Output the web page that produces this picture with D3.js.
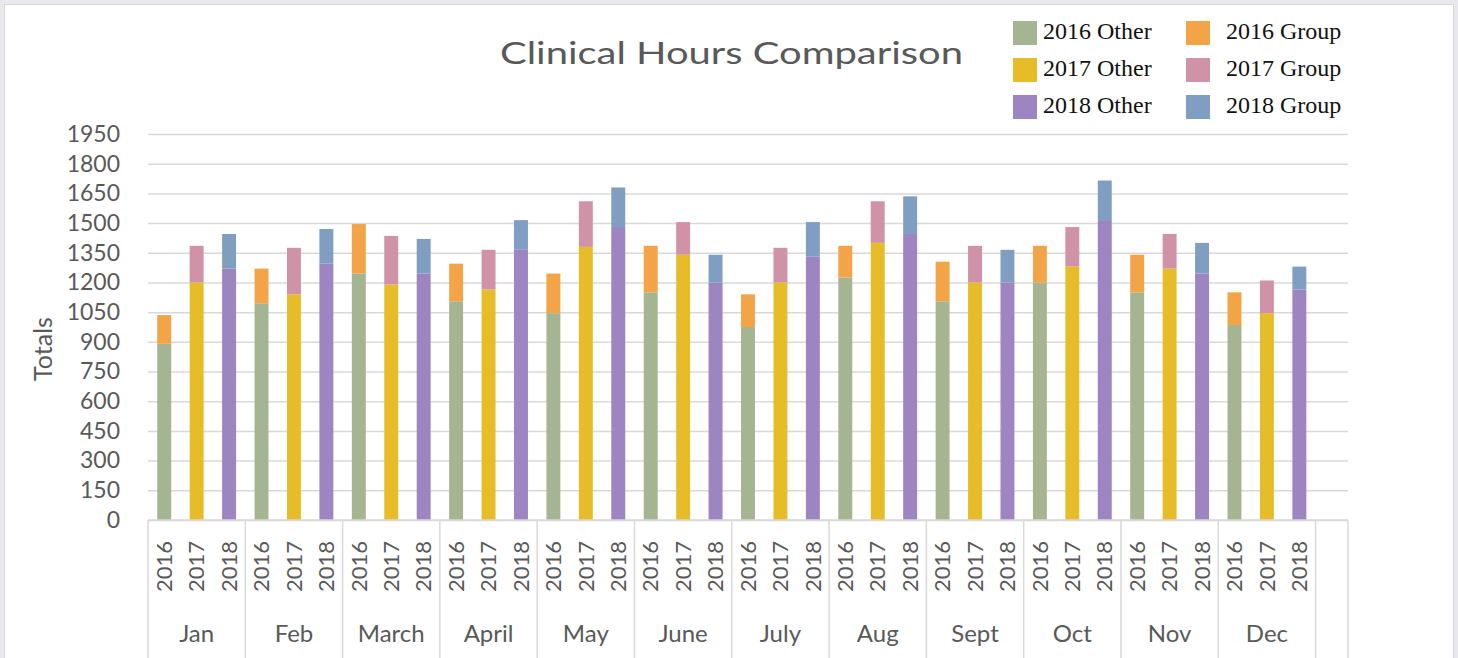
<!DOCTYPE html>
<html>
<head>
<meta charset="utf-8">
<script src="https://cdn.jsdelivr.net/npm/d3@7"></script>
<style>
  body { margin: 0; background: #e8e8ee; }
  svg { display: block; }
</style>
</head>
<body>
<svg id="chart"></svg>
<script>
// data
var months = ["Jan", "Feb", "March", "April", "May", "June", "July", "Aug", "Sept", "Oct", "Nov", "Dec"];
var years = ["2016", "2017", "2018"];
var other2016 = [890, 1095, 1245, 1105, 1045, 1150, 975, 1225, 1105, 1200, 1150, 985];
var group2016 = [145, 175, 250, 190, 200, 235, 165, 160, 200, 185, 190, 165];
var other2017 = [1200, 1140, 1190, 1165, 1380, 1340, 1200, 1400, 1200, 1280, 1270, 1045];
var group2017 = [185, 235, 245, 200, 230, 165, 175, 210, 185, 200, 175, 165];
var other2018 = [1270, 1295, 1245, 1365, 1480, 1200, 1330, 1445, 1200, 1515, 1245, 1165];
var group2018 = [175, 175, 175, 150, 200, 140, 175, 190, 165, 200, 155, 115];
var yTicks = [0, 150, 300, 450, 600, 750, 900, 1050, 1200, 1350, 1500, 1650, 1800, 1950];
var legendNames = ["2016 Other", "2016 Group", "2017 Other", "2017 Group", "2018 Other", "2018 Group"];
var colors = ["#a5b592", "#f3a447", "#e7bc29", "#d092a7", "#9c85c0", "#809ec2"];

var W = 1458, H = 658;
var plotLeft = 148, plotRight = 1348, plotTop = 134, plotBottom = 520;
var gray = "#595959";
var sans = "Lato, 'Open Sans', sans-serif";

var svg = d3.select("#chart").attr("width", W).attr("height", H);

svg.append("rect")
    .attr("x", 4.5).attr("y", 4.5)
    .attr("width", 1449).attr("height", 680)
    .attr("fill", "#fff")
    .attr("stroke", "#d6d6dc");

// one slot per month/year, plus the blank row at the end
var rows = [];
months.forEach(function(m, i) {
    years.forEach(function(yr, j) {
        var o = [other2016, other2017, other2018][j][i];
        var g = [group2016, group2017, group2018][j][i];
        rows.push({key: m + "-" + yr, month: m, year: yr, yi: j, other: o, group: g});
    });
});
var keys = rows.map(function(d) { return d.key; }).concat(["blank"]);

var x = d3.scaleBand().domain(keys).range([plotLeft, plotRight])
    .paddingInner(0.57).paddingOuter(0.285);
var xm = d3.scaleBand().domain(months).range([plotLeft, plotLeft + x.step() * 36]);
var y = d3.scaleLinear().domain([0, 1950]).range([plotBottom, plotTop]);

// gridlines + y labels
var yAxis = d3.axisLeft(y).tickValues(yTicks).tickFormat(d3.format("d"))
    .tickSize(-(plotRight - plotLeft)).tickPadding(28);
var gy = svg.append("g").attr("transform", "translate(" + plotLeft + ",0)").call(yAxis);
gy.select(".domain").remove();
gy.selectAll("line").attr("stroke", "#d9d9d9").attr("stroke-width", 1.5);
gy.selectAll("text")
    .attr("fill", gray)
    .style("font-family", sans)
    .style("font-size", "23px");

svg.append("text")
    .attr("transform", "translate(52,349) rotate(-90)")
    .attr("text-anchor", "middle")
    .attr("fill", gray)
    .style("font-family", sans)
    .style("font-size", "25px")
    .text("Totals");

// stacked bars
var bars = svg.selectAll(".bar").data(rows).enter().append("g").attr("class", "bar");
bars.append("rect")
    .attr("x", function(d) { return x(d.key); })
    .attr("width", x.bandwidth())
    .attr("y", function(d) { return y(d.other); })
    .attr("height", function(d) { return y(0) - y(d.other); })
    .attr("fill", function(d) { return colors[d.yi * 2]; });
bars.append("rect")
    .attr("x", function(d) { return x(d.key); })
    .attr("width", x.bandwidth())
    .attr("y", function(d) { return y(d.other + d.group); })
    .attr("height", function(d) { return y(d.other) - y(d.other + d.group); })
    .attr("fill", function(d) { return colors[d.yi * 2 + 1]; });

// category axis
svg.append("line")
    .attr("x1", plotLeft).attr("x2", plotRight)
    .attr("y1", plotBottom).attr("y2", plotBottom)
    .attr("stroke", "#d9d9d9").attr("stroke-width", 1.5);

var seps = months.map(function(m) { return xm(m); }).concat([xm.range()[1], plotRight]);
svg.selectAll(".sep").data(seps).enter().append("line")
    .attr("x1", function(d) { return d; }).attr("x2", function(d) { return d; })
    .attr("y1", plotBottom).attr("y2", H)
    .attr("stroke", "#d9d9d9").attr("stroke-width", 1.5);

svg.selectAll(".yr").data(rows).enter().append("text")
    .attr("transform", function(d) {
        return "translate(" + (x(d.key) + x.bandwidth() / 2) + ",541) rotate(-90)";
    })
    .attr("text-anchor", "end")
    .attr("dy", "0.35em")
    .attr("fill", gray)
    .style("font-family", sans)
    .style("font-size", "22px")
    .text(function(d) { return d.year; });

svg.selectAll(".mo").data(months).enter().append("text")
    .attr("x", function(d) { return xm(d) + xm.bandwidth() / 2; })
    .attr("y", 642)
    .attr("text-anchor", "middle")
    .attr("fill", gray)
    .style("font-family", sans)
    .style("font-size", "24px")
    .text(function(d) { return d; });

// title (reference glyphs are a bit stretched sideways)
svg.append("text")
    .attr("x", 500).attr("y", 64)
    .attr("textLength", 463)
    .attr("lengthAdjust", "spacingAndGlyphs")
    .attr("fill", gray)
    .style("font-family", sans)
    .style("font-size", "30px")
    .text("Clinical Hours Comparison");

// legend, two columns
var leg = svg.selectAll(".legend").data(legendNames).enter().append("g")
    .attr("transform", function(d, i) {
        return "translate(" + (i % 2 ? 1186 : 1013) + "," + (21 + Math.floor(i / 2) * 37) + ")";
    });
leg.append("rect").attr("width", 24).attr("height", 24)
    .attr("fill", function(d, i) { return colors[i]; });
leg.append("text")
    .attr("x", function(d, i) { return i % 2 ? 40 : 30; })
    .attr("y", 18)
    .attr("fill", "#111")
    .style("font-family", "'Liberation Serif', 'DejaVu Serif', serif")
    .style("font-size", "24px")
    .text(function(d) { return d; });
</script>
</body>
</html>
